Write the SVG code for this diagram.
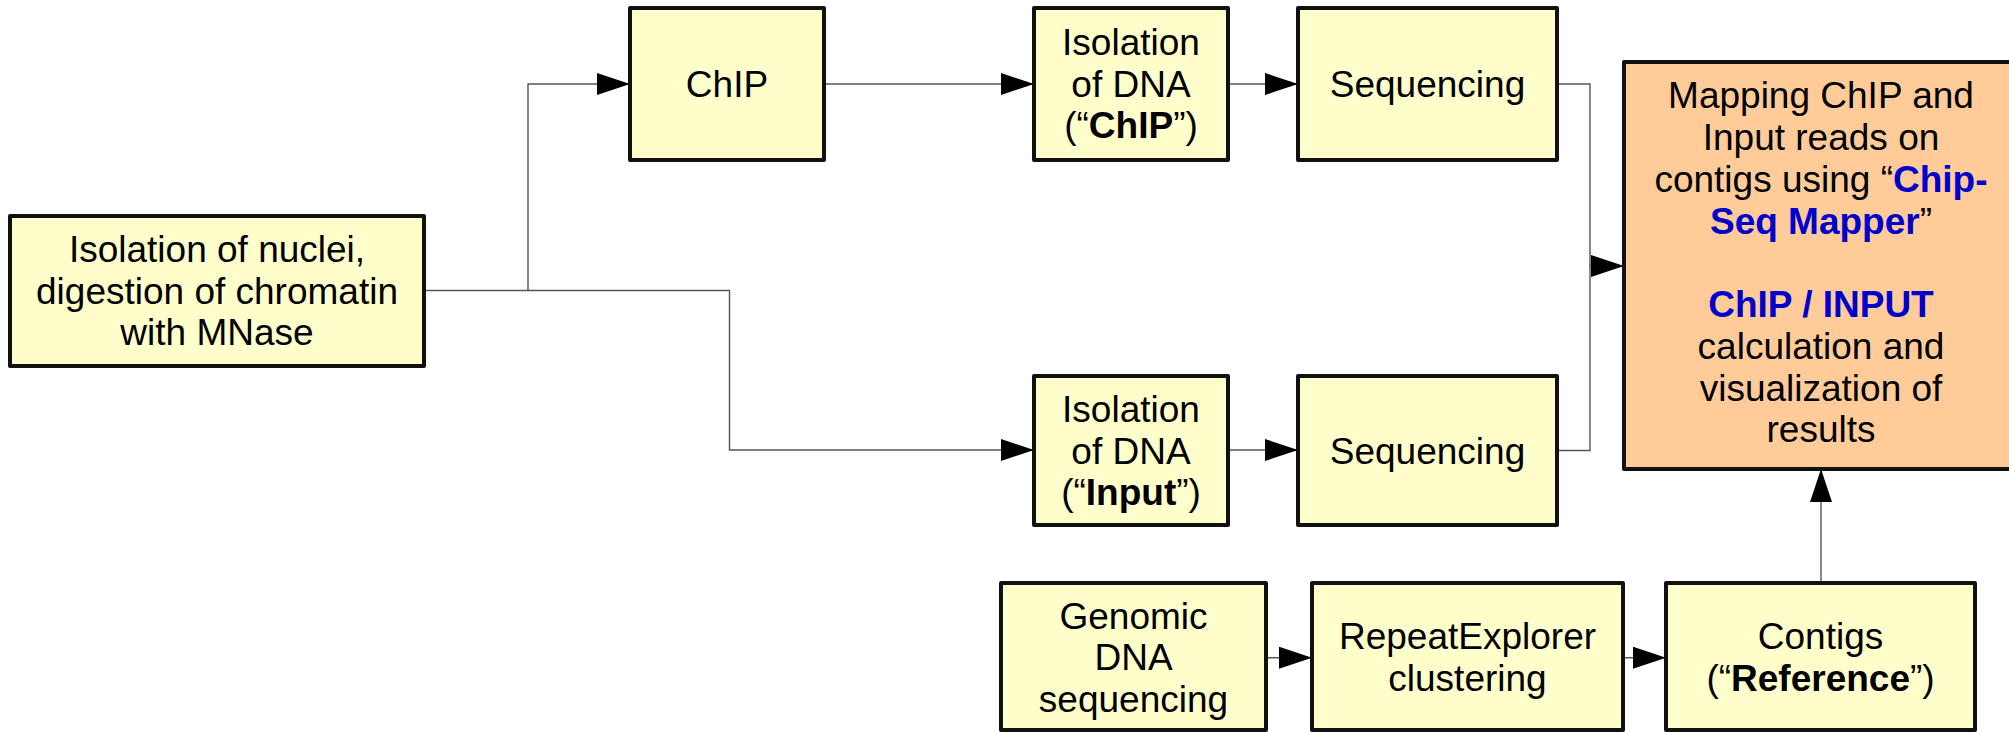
<svg xmlns="http://www.w3.org/2000/svg" width="2009" height="732" viewBox="0 0 2009 732">
<style>
.box{fill:#ffffcc;stroke:#111;stroke-width:4;stroke-linejoin:round}
.main{fill:#ffcc99;stroke:#111;stroke-width:4;stroke-linejoin:round}
.t{font-family:"Liberation Sans",Arial,sans-serif;font-size:37px;fill:#000;text-anchor:middle}
.b{font-weight:bold}
.blue{fill:#0000cc;font-weight:bold}
.c{fill:none;stroke:#555;stroke-width:1.4}
</style>
<defs>
<marker id="ah" markerUnits="userSpaceOnUse" markerWidth="33" markerHeight="22" refX="33" refY="11" orient="auto" viewBox="0 0 33 22">
<path d="M0,0 L33,11 L0,22 z" fill="#000"/>
</marker>
</defs>
<g id="connectors">
<path class="c" d="M424,290.5 H528 V84 H630" marker-end="url(#ah)"/>
<path class="c" d="M528,290.5 H729.5 V450 H1034" marker-end="url(#ah)"/>
<path class="c" d="M824,84 H1034" marker-end="url(#ah)"/>
<path class="c" d="M1228,84 H1298" marker-end="url(#ah)"/>
<path class="c" d="M1228,450 H1298" marker-end="url(#ah)"/>
<path class="c" d="M1557,84 H1590 V266 H1624" marker-end="url(#ah)"/>
<path class="c" d="M1557,450.5 H1590 V266"/>
<path class="c" d="M1266,657.7 H1312" marker-end="url(#ah)"/>
<path class="c" d="M1623,657.7 H1666" marker-end="url(#ah)"/>
<path class="c" d="M1821,583 V469" marker-end="url(#ah)"/>
</g>
<g id="n-nuclei">
<rect class="box" x="10" y="216" width="414" height="150"/>
<text class="t" x="217" y="262">Isolation of nuclei,</text>
<text class="t" x="217" y="303.5">digestion of chromatin</text>
<text class="t" x="217" y="345">with MNase</text>
</g>
<g id="n-chip">
<rect class="box" x="630" y="8" width="194" height="152"/>
<text class="t" x="727" y="97">ChIP</text>
</g>
<g id="n-isochip">
<rect class="box" x="1034" y="8" width="194" height="152"/>
<text class="t" x="1131" y="55">Isolation</text>
<text class="t" x="1131" y="96.5">of DNA</text>
<text class="t" x="1131" y="138">(“<tspan class="b">ChIP</tspan>”)</text>
</g>
<g id="n-seqtop">
<rect class="box" x="1298" y="8" width="259" height="152"/>
<text class="t" x="1427.5" y="97">Sequencing</text>
</g>
<g id="n-isoinput">
<rect class="box" x="1034" y="376" width="194" height="149"/>
<text class="t" x="1131" y="422">Isolation</text>
<text class="t" x="1131" y="463.5">of DNA</text>
<text class="t" x="1131" y="505">(“<tspan class="b">Input</tspan>”)</text>
</g>
<g id="n-seqbot">
<rect class="box" x="1298" y="376" width="259" height="149"/>
<text class="t" x="1427.5" y="464">Sequencing</text>
</g>
<g id="n-mapping">
<rect class="main" x="1624" y="62" width="394" height="407"/>
<text class="t" x="1821" y="108">Mapping ChIP and</text>
<text class="t" x="1821" y="150">Input reads on</text>
<text class="t" x="1821" y="192">contigs using “<tspan class="blue">Chip-</tspan></text>
<text class="t" x="1821" y="233.5"><tspan class="blue">Seq Mapper</tspan>”</text>
<text class="t blue" x="1821" y="317">ChIP / INPUT</text>
<text class="t" x="1821" y="359">calculation and</text>
<text class="t" x="1821" y="400.5">visualization of</text>
<text class="t" x="1821" y="442">results</text>
</g>
<g id="n-genomic">
<rect class="box" x="1001" y="583" width="265" height="147"/>
<text class="t" x="1133.5" y="628.5">Genomic</text>
<text class="t" x="1133.5" y="670">DNA</text>
<text class="t" x="1133.5" y="711.5">sequencing</text>
</g>
<g id="n-repeat">
<rect class="box" x="1312" y="583" width="311" height="147"/>
<text class="t" x="1467.5" y="649">RepeatExplorer</text>
<text class="t" x="1467.5" y="690.5">clustering</text>
</g>
<g id="n-contigs">
<rect class="box" x="1666" y="583" width="309" height="147"/>
<text class="t" x="1820.5" y="649">Contigs</text>
<text class="t" x="1820.5" y="690.5">(“<tspan class="b">Reference</tspan>”)</text>
</g>
</svg>
